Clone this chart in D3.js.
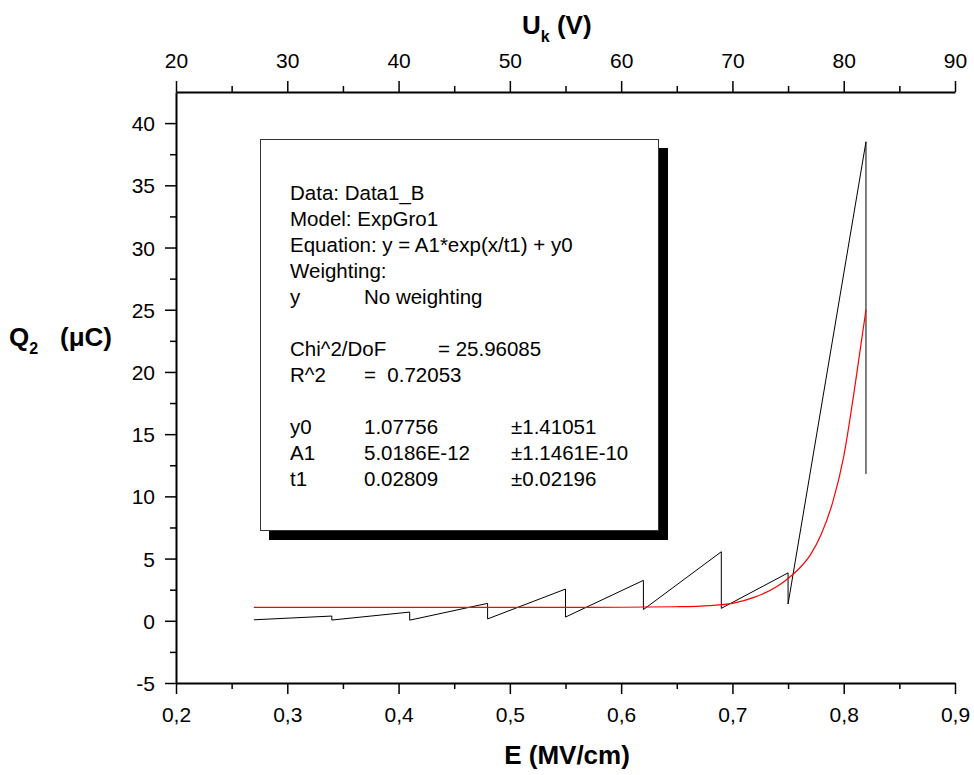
<!DOCTYPE html>
<html><head><meta charset="utf-8">
<script src="https://cdn.jsdelivr.net/npm/d3@7"></script>
<style>
body{margin:0;background:#fff;}
text{font-family:"Liberation Sans",Arial,sans-serif;white-space:pre;}
</style></head>
<body><svg id="c" width="974" height="775"></svg>
<script>
// Data
const dataE = [0.27,0.34,0.34,0.41,0.41,0.48,0.48,0.55,0.55,0.62,0.62,0.69,0.69,0.75,0.75,0.82,0.82];
const dataQ = [0.08,0.38,0.06,0.70,0.05,1.40,0.15,2.55,0.30,3.25,0.90,5.55,1.00,3.85,1.35,38.5,11.8];
const fitE = [0.27,0.35,0.45,0.55,0.60,0.65,0.68,0.70,0.72,0.74,0.75,0.76,0.77,0.78,0.79,0.80,0.81,0.82];
const fitQ = [1.08,1.08,1.08,1.08,1.09,1.13,1.22,1.40,1.90,2.75,3.40,4.20,5.30,7.00,9.50,13.2,18.8,25.0];
const xTicks = [0.2,0.3,0.4,0.5,0.6,0.7,0.8,0.9];
const xTickLabels = ["0,2","0,3","0,4","0,5","0,6","0,7","0,8","0,9"];
const topTicks = [20,30,40,50,60,70,80,90];
const yTicks = [-5,0,5,10,15,20,25,30,35,40];
const boxLines = [
  ["Data: Data1_B"],["Model: ExpGro1"],["Equation: y = A1*exp(x/t1) + y0"],["Weighting:"],
  ["y","No weighting"],[""],["Chi^2/DoF","","= 25.96085"],["R^2","=  0.72053"],[""],
  ["y0","1.07756","±1.41051"],["A1","5.0186E-12","±1.1461E-10"],["t1","0.02809","±0.02196"]
];

const svg = d3.select("#c");
const x = d3.scaleLinear().domain([0.2,0.9]).range([176,955]);
const x2 = d3.scaleLinear().domain([20,90]).range([176,955]);
const y = d3.scaleLinear().domain([-5,42.5]).range([683,92]);

function styleAxis(g){
  g.select(".domain").attr("stroke","#000").attr("stroke-width",2);
  g.selectAll(".tick line").attr("stroke","#000").attr("stroke-width",1.5);
  g.selectAll(".tick text").attr("font-size",21).attr("fill","#000").attr("font-family","Liberation Sans, Arial, sans-serif");
}
function minor(g, axisFn, scale, vals, len){
  g.call(axisFn(scale).tickValues(vals).tickSize(len).tickFormat(""));
  g.select(".domain").remove();
  g.selectAll(".tick line").attr("stroke","#000").attr("stroke-width",1.5);
}
minor(svg.append("g").attr("transform","translate(0,683)"), d3.axisBottom, x, d3.range(0.25,0.9,0.1), 6);
minor(svg.append("g").attr("transform","translate(0,92)"), d3.axisTop, x2, d3.range(25,90,10), 6);
minor(svg.append("g").attr("transform","translate(176,0)"), d3.axisLeft, y, d3.range(-2.5,42,5), 6);

const gb = svg.append("g").attr("transform","translate(0,683)")
  .call(d3.axisBottom(x).tickValues(xTicks).tickSize(11).tickSizeOuter(0).tickPadding(13).tickFormat((d,i)=>xTickLabels[i]));
styleAxis(gb);
const gt = svg.append("g").attr("transform","translate(0,92)")
  .call(d3.axisTop(x2).tickValues(topTicks).tickSize(11).tickSizeOuter(0).tickPadding(13).tickFormat(d=>String(d)));
styleAxis(gt);
const gl = svg.append("g").attr("transform","translate(176,0)")
  .call(d3.axisLeft(y).tickValues(yTicks).tickSize(11).tickSizeOuter(0).tickPadding(10).tickFormat(d=>String(d)));
styleAxis(gl);
gl.selectAll(".tick text").attr("dy","0.36em");

// lines
const line = d3.line().x(d=>x(d[0])).y(d=>y(d[1]));
svg.append("path").datum(dataE.map((e,i)=>[e,dataQ[i]]))
  .attr("d",line).attr("fill","none").attr("stroke","#000").attr("stroke-width",1);
svg.append("path").datum(fitE.map((e,i)=>[e,fitQ[i]]))
  .attr("d",line.curve(d3.curveMonotoneX)).attr("fill","none").attr("stroke","#ff0000").attr("stroke-width",1.2);

// text box with shadow
svg.append("rect").attr("x",269).attr("y",148).attr("width",399).attr("height",392).attr("fill","#000");
svg.append("rect").attr("x",260.5).attr("y",139.5).attr("width",398).attr("height",391).attr("fill","#fff").attr("stroke","#333").attr("stroke-width",1);
const colX = [290,364,511];
boxLines.forEach((row,i)=>{
  row.forEach((t,j)=>{
    if(!t) return;
    let cx = colX[j];
    if(i===6 && j===2) cx = 438;
    svg.append("text").attr("x",cx).attr("y",200+i*26).attr("font-size",20.5).attr("fill","#000").text(t);
  });
});

// axis titles
svg.append("text").attr("x",567).attr("y",764).attr("text-anchor","middle").attr("font-size",26).attr("font-weight","bold").text("E (MV/cm)");
const tt = svg.append("text").attr("x",522).attr("y",34).attr("font-size",26).attr("font-weight","bold");
tt.append("tspan").text("U");
tt.append("tspan").attr("font-size",16).attr("dy",8).text("k");
tt.append("tspan").attr("dy",-8).text(" (V)");
const yt = svg.append("text").attr("y",346).attr("font-size",26).attr("font-weight","bold");
yt.append("tspan").attr("x",9).text("Q");
yt.append("tspan").attr("font-size",16).attr("dy",8).text("2");
yt.append("tspan").attr("x",60).attr("dy",-8).text("(μC)");
</script></body></html>
